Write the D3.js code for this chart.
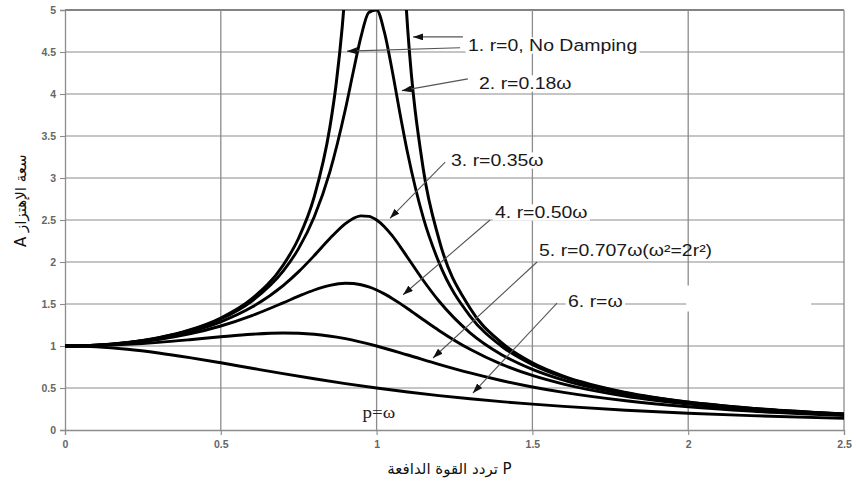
<!DOCTYPE html>
<html>
<head>
<meta charset="utf-8">
<script src="https://cdn.jsdelivr.net/npm/d3@7"></script>
<style>
  html, body { margin: 0; padding: 0; background: #fff; }
  svg { display: block; }
</style>
</head>
<body>
<svg id="chart" width="856" height="482"></svg>
<script>
// ---------- data ----------
const xTicks = [0, 0.5, 1, 1.5, 2, 2.5];
const yTicks = [0, 0.5, 1, 1.5, 2, 2.5, 3, 3.5, 4, 4.5, 5];

// undamped curve (r = 0), two branches either side of resonance
const pUndampedLow  = [0, 0.1, 0.2, 0.3, 0.4, 0.5, 0.6, 0.7, 0.75, 0.8, 0.85, 0.87, 0.89, 0.9, 0.91];
const aUndampedLow  = [1, 1.0101, 1.0417, 1.0989, 1.1905, 1.3333, 1.5625, 1.9608, 2.2857, 2.7778, 3.6036, 4.1135, 4.81, 5.2632, 5.8173];
const pUndampedHigh = [1.09, 1.1, 1.15, 1.2, 1.3, 1.4, 1.5, 1.6, 1.8, 2.0, 2.2, 2.5];
const aUndampedHigh = [5.3163, 4.7619, 3.1008, 2.2727, 1.4493, 1.0417, 0.8, 0.641, 0.4464, 0.3333, 0.2604, 0.1905];

// fine frequency grid for the sharper damped curves
const pFine = [0, 0.1, 0.2, 0.3, 0.4, 0.5, 0.6, 0.7, 0.75, 0.8, 0.85, 0.9, 0.925, 0.95, 0.975, 1, 1.025, 1.05, 1.075, 1.1, 1.15, 1.2, 1.3, 1.4, 1.5, 1.6, 1.8, 2.0, 2.2, 2.5];
const aCurve2 = [1, 1.0099, 1.0408, 1.0965, 1.1851, 1.3216, 1.5357, 1.8908, 2.1621, 2.5383, 3.0728, 3.8208, 4.2613, 4.6826, 4.9713, 5.0, 4.7358, 4.2794, 3.7677, 3.288, 2.5245, 1.9952, 1.3562, 1.0, 0.7779, 0.628, 0.4408, 0.3304, 0.2587, 0.1896];
const aCurve3 = [1, 1.0093, 1.0381, 1.0895, 1.1695, 1.2883, 1.463, 1.7188, 1.8851, 2.0761, 2.2785, 2.4566, 2.5178, 2.549, 2.5438, 2.5, 2.4206, 2.3131, 2.1868, 2.0511, 1.78, 1.5357, 1.1574, 0.8998, 0.7212, 0.5931, 0.425, 0.3221, 0.2538, 0.1871];
const aCurve4 = [1, 1.0082, 1.0336, 1.078, 1.1447, 1.238, 1.3618, 1.5136, 1.5933, 1.6667, 1.7223, 1.7469, 1.7438, 1.7293, 1.7034, 1.6667, 1.6205, 1.5667, 1.5071, 1.4438, 1.3129, 1.1851, 0.9603, 0.7839, 0.6492, 0.5459, 0.4021, 0.3095, 0.2463, 0.1832];

// coarse grid for the broad curves
const pCoarse = [0, 0.1, 0.2, 0.3, 0.4, 0.5, 0.6, 0.7, 0.8, 0.9, 1.0, 1.1, 1.2, 1.3, 1.4, 1.5, 1.6, 1.8, 2.0, 2.2, 2.5];
const aCurve5 = [1, 1.005, 1.0198, 1.0436, 1.0748, 1.1094, 1.1399, 1.1546, 1.1399, 1.0872, 1.0, 0.893, 0.7824, 0.6795, 0.5891, 0.5121, 0.4475, 0.348, 0.2774, 0.226, 0.172];
const aCurve6 = [1, 0.9901, 0.9615, 0.9174, 0.8621, 0.8, 0.7353, 0.6711, 0.6098, 0.5525, 0.5, 0.4525, 0.4098, 0.3717, 0.3378, 0.3077, 0.2809, 0.2358, 0.2, 0.1712, 0.1379];

const curveLabels = ["1. r=0, No Damping", "2. r=0.18ω", "3. r=0.35ω", "4. r=0.50ω", "5. r=0.707ω(ω²=2r²)", "6. r=ω"];
const xTitle = "تردد القوة الدافعة P";
const yTitle = "A سعة الإهتزاز";
const resonanceText = "p=ω";

// ---------- layout ----------
const x = d3.scaleLinear().domain([0, 2.5]).range([65, 844]);
const y = d3.scaleLinear().domain([0, 5]).range([430, 10]);

const svg = d3.select("#chart");
const defs = svg.append("defs");
defs.append("clipPath").attr("id", "plotClip")
  .append("rect").attr("x", x(0)).attr("y", y(5)).attr("width", x(2.5) - x(0)).attr("height", y(0) - y(5));
defs.append("marker").attr("id", "arrow")
  .attr("viewBox", "0 0 10 7").attr("refX", 10).attr("refY", 3.5)
  .attr("markerWidth", 10).attr("markerHeight", 7)
  .attr("markerUnits", "userSpaceOnUse").attr("orient", "auto")
  .append("path").attr("d", "M0,0 L10,3.5 L0,7 Z").attr("fill", "#111");

// grid
const grid = svg.append("g");
grid.selectAll("line.h").data(yTicks.filter(d => d > 0)).join("line")
  .attr("x1", x(0)).attr("x2", x(2.5)).attr("y1", d => y(d)).attr("y2", d => y(d))
  .attr("stroke", d => d === 5 ? "#5a5a5a" : "#8c8c8c").attr("stroke-width", d => d === 5 ? 1.6 : 1.1);
grid.selectAll("line.v").data(xTicks.filter(d => d > 0)).join("line")
  .attr("x1", d => x(d)).attr("x2", d => x(d)).attr("y1", y(0)).attr("y2", y(5))
  .attr("stroke", "#8c8c8c").attr("stroke-width", 1.3);

// axes
const yAxis = svg.append("g").attr("transform", `translate(${x(0)},0)`)
  .call(d3.axisLeft(y).tickValues(yTicks).tickSize(5).tickPadding(4).tickFormat(d3.format("")));
const xAxis = svg.append("g").attr("transform", `translate(0,${y(0)})`)
  .call(d3.axisBottom(x).tickValues(xTicks).tickSize(5).tickPadding(6).tickFormat(d3.format("")));
[xAxis, yAxis].forEach(a => {
  a.select(".domain").attr("stroke", "#8c8c8c").attr("stroke-width", 1.3);
  a.selectAll(".tick line").attr("stroke", "#8c8c8c").attr("stroke-width", 1.1);
  a.selectAll(".tick text").attr("fill", "#666").attr("font-size", 10.5)
    .attr("font-weight", "bold").attr("font-family", "Liberation Sans, Arial, sans-serif");
});

const labelLayout = [
  { i: 0, tx: 468, ty: 51 },
  { i: 1, tx: 479, ty: 89 },
  { i: 2, tx: 451, ty: 166 },
  { i: 3, tx: 495, ty: 218 },
  { i: 4, tx: 539, ty: 256, nobox: true },
  { i: 5, tx: 568, ty: 307 }
];
// blank area near label 6, as in the picture
svg.append("rect").attr("x", x(2.0) - 2).attr("y", y(1.72)).attr("width", 125).attr("height", 26).attr("fill", "#fff");

// curves
const line = d3.line().x(d => x(d[0])).y(d => y(d[1])).curve(d3.curveMonotoneX);
const zip = (ps, as) => ps.map((p, k) => [p, as[k]]);
const series = [
  { d: zip(pUndampedLow, aUndampedLow), w: 3 },
  { d: zip(pUndampedHigh, aUndampedHigh), w: 3 },
  { d: zip(pFine, aCurve2), w: 2.9 },
  { d: zip(pFine, aCurve3), w: 2.9 },
  { d: zip(pFine, aCurve4), w: 2.9 },
  { d: zip(pCoarse, aCurve5), w: 2.9 },
  { d: zip(pCoarse, aCurve6), w: 2.9 }
];
svg.append("g").attr("clip-path", "url(#plotClip)")
  .selectAll("path").data(series).join("path")
  .attr("d", s => line(s.d)).attr("fill", "none").attr("stroke", "#000")
  .attr("stroke-width", s => s.w).attr("stroke-linejoin", "round");

// annotation arrows: tail (near label) -> tip (near curve), in data units
const arrows = [
  [[1.277, 4.68], [1.117, 4.68]],
  [[1.268, 4.55], [0.905, 4.51]],
  [[1.293, 4.18], [1.081, 4.04]],
  [[1.22, 3.19], [1.043, 2.52]],
  [[1.364, 2.50], [1.085, 1.61]],
  [[1.515, 2.0], [1.181, 0.857]],
  [[1.579, 1.51], [1.309, 0.44]]
];
svg.append("g").selectAll("line").data(arrows).join("line")
  .attr("x1", a => x(a[0][0])).attr("y1", a => y(a[0][1]))
  .attr("x2", a => x(a[1][0])).attr("y2", a => y(a[1][1]))
  .attr("stroke", "#555").attr("stroke-width", 1.1).attr("marker-end", "url(#arrow)");

// labels
labelLayout.forEach(L => {
  const g = svg.append("g").attr("transform", `translate(${L.tx},${L.ty}) scale(1.18,1)`);
  const t = g.append("text").attr("x", 0).attr("y", 0)
    .attr("font-family", "Liberation Sans, Arial, sans-serif").attr("font-size", 16.5)
    .attr("fill", "#1a1a1a").text(curveLabels[L.i]);
  if (!L.nobox) {
    const b = t.node().getBBox();
    g.insert("rect", "text").attr("x", b.x - 2).attr("y", b.y + 1).attr("width", b.width + 4).attr("height", b.height - 2).attr("fill", "#fff");
  }
});

svg.append("text").attr("transform", `translate(${x(0.955)},418) scale(1.15,1)`)
  .attr("font-family", "Liberation Serif, Times New Roman, serif").attr("font-size", 16.5)
  .attr("fill", "#222").text(resonanceText);

// axis titles
svg.append("text").attr("transform", `translate(${(x(0)+x(2.5))/2 - 5},474)`)
  .attr("text-anchor", "middle").attr("font-family", "DejaVu Sans, sans-serif").attr("font-size", 15)
  .attr("fill", "#111").text(xTitle);
svg.append("text").attr("transform", `translate(26,${y(2.73)}) rotate(-90)`)
  .attr("text-anchor", "middle").attr("font-family", "DejaVu Sans, sans-serif").attr("font-size", 15)
  .attr("fill", "#111").text(yTitle);
</script>
</body>
</html>
